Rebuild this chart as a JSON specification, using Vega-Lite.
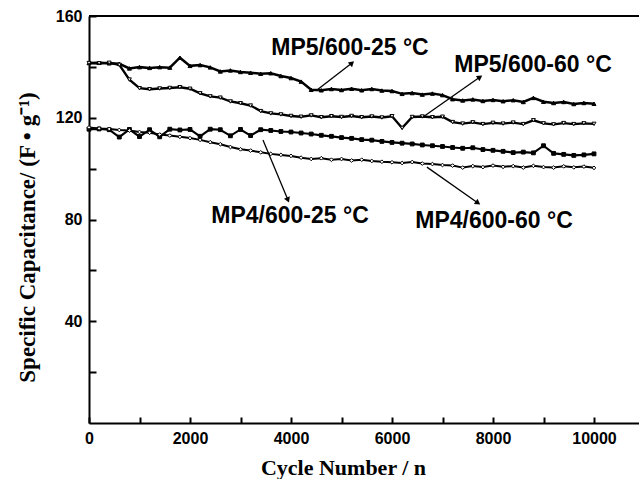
{
  "$schema": "https://vega.github.io/schema/vega-lite/v6.json",
  "autosize": "none",
  "width": 550,
  "height": 407,
  "padding": {"left": 89, "top": 16, "right": 0, "bottom": 56},
  "background": "white",
  "config": {"view": {"stroke": null}},
  "datasets": {
    "cap": [
      {"c": 0, "A": 141.5, "B": 141.5, "C": 115.5, "D": 116.2},
      {"c": 200, "A": 141.6, "B": 141.4, "C": 115.6, "D": 115.8},
      {"c": 400, "A": 141.4, "B": 141.6, "C": 115.3, "D": 115.6},
      {"c": 600, "A": 141.2, "B": 140.8, "C": 112.4, "D": 115.2},
      {"c": 800, "A": 139.4, "B": 135.0, "C": 115.4, "D": 115.0},
      {"c": 1000, "A": 139.9, "B": 131.6, "C": 112.6, "D": 114.4},
      {"c": 1200, "A": 139.6, "B": 131.2, "C": 115.3, "D": 114.1},
      {"c": 1400, "A": 139.9, "B": 131.5, "C": 112.5, "D": 113.4},
      {"c": 1600, "A": 139.7, "B": 131.7, "C": 115.5, "D": 113.0},
      {"c": 1800, "A": 143.6, "B": 132.0, "C": 115.2, "D": 112.5},
      {"c": 2000, "A": 140.4, "B": 131.4, "C": 115.4, "D": 112.0},
      {"c": 2200, "A": 140.7, "B": 129.6, "C": 112.7, "D": 111.3},
      {"c": 2400, "A": 139.8, "B": 128.4, "C": 115.5, "D": 110.4},
      {"c": 2600, "A": 138.2, "B": 127.9, "C": 115.3, "D": 109.6},
      {"c": 2800, "A": 138.6, "B": 126.4, "C": 112.9, "D": 108.5},
      {"c": 3000, "A": 138.0, "B": 125.7, "C": 115.4, "D": 107.6},
      {"c": 3200, "A": 137.7, "B": 124.8, "C": 113.0, "D": 107.1},
      {"c": 3400, "A": 137.3, "B": 122.6, "C": 115.3, "D": 106.4},
      {"c": 3600, "A": 137.5, "B": 121.7, "C": 115.0, "D": 105.8},
      {"c": 3800, "A": 136.4, "B": 121.3, "C": 114.6, "D": 105.4},
      {"c": 4000, "A": 135.6, "B": 120.7, "C": 114.4, "D": 105.0},
      {"c": 4200, "A": 134.2, "B": 120.4, "C": 114.0, "D": 104.3},
      {"c": 4400, "A": 131.0, "B": 120.9, "C": 113.6, "D": 103.8},
      {"c": 4600, "A": 130.8, "B": 120.2, "C": 113.1, "D": 104.1},
      {"c": 4800, "A": 131.3, "B": 120.6, "C": 112.7, "D": 103.5},
      {"c": 5000, "A": 130.9, "B": 120.3, "C": 112.2, "D": 103.8},
      {"c": 5200, "A": 131.4, "B": 120.7, "C": 111.9, "D": 103.2},
      {"c": 5400, "A": 130.8, "B": 120.2, "C": 111.4, "D": 103.5},
      {"c": 5600, "A": 131.3, "B": 120.5, "C": 111.2, "D": 103.0},
      {"c": 5800, "A": 130.7, "B": 120.1, "C": 110.7, "D": 102.7},
      {"c": 6000, "A": 130.5, "B": 120.6, "C": 110.3, "D": 102.5},
      {"c": 6200, "A": 129.4, "B": 116.0, "C": 110.0, "D": 102.2},
      {"c": 6400, "A": 129.7, "B": 120.3, "C": 109.7, "D": 102.6},
      {"c": 6600, "A": 129.1, "B": 120.5, "C": 109.3, "D": 102.0},
      {"c": 6800, "A": 129.5, "B": 120.2, "C": 109.0, "D": 101.8},
      {"c": 7000, "A": 128.9, "B": 120.4, "C": 108.7, "D": 101.4},
      {"c": 7200, "A": 127.3, "B": 118.3, "C": 108.3, "D": 101.2},
      {"c": 7400, "A": 126.8, "B": 117.7, "C": 108.0, "D": 100.4},
      {"c": 7600, "A": 127.2, "B": 118.2, "C": 108.2, "D": 101.0},
      {"c": 7800, "A": 126.6, "B": 117.5, "C": 107.5, "D": 100.6},
      {"c": 8000, "A": 127.0, "B": 118.0, "C": 107.2, "D": 101.2},
      {"c": 8200, "A": 126.5, "B": 117.7, "C": 106.8, "D": 100.7},
      {"c": 8400, "A": 126.9, "B": 118.1, "C": 106.3, "D": 101.0},
      {"c": 8600, "A": 126.2, "B": 117.5, "C": 106.5, "D": 100.4},
      {"c": 8800, "A": 127.8, "B": 119.0, "C": 106.2, "D": 101.1},
      {"c": 9000, "A": 126.3, "B": 117.8, "C": 109.0, "D": 100.6},
      {"c": 9200, "A": 125.8, "B": 117.4, "C": 106.0, "D": 100.4},
      {"c": 9400, "A": 126.2, "B": 117.9, "C": 105.6, "D": 100.9},
      {"c": 9600, "A": 125.4, "B": 117.5, "C": 105.2, "D": 100.5},
      {"c": 9800, "A": 125.8, "B": 117.8, "C": 105.4, "D": 100.8},
      {"c": 10000, "A": 125.5, "B": 117.6, "C": 105.8, "D": 100.3}
    ],
    "arrows": [
      {"name": "A", "x": 4515, "y": 130.9, "x2": 5207, "y2": 141.5},
      {"name": "B", "x": 6614, "y": 120.3, "x2": 7742, "y2": 136.0},
      {"name": "C", "x": 3445, "y": 111.3, "x2": 3940, "y2": 87.7},
      {"name": "D", "x": 6692, "y": 100.6, "x2": 7702, "y2": 86.5}
    ],
    "labels": [
      {"label": "MP5/600-25 °C", "x": 5168, "y": 144.7},
      {"label": "MP5/600-60 °C", "x": 8792, "y": 138.0},
      {"label": "MP4/600-25 °C", "x": 3980, "y": 78.6},
      {"label": "MP4/600-60 °C", "x": 8020, "y": 76.7}
    ],
    "frame": [{"top": 160}]
  },
  "layer": [
    {
      "data": {"name": "cap"},
      "transform": [{"fold": ["A", "B", "C", "D"], "as": ["series", "value"]}],
      "encoding": {
        "x": {
          "field": "c", "type": "quantitative",
          "scale": {"domain": [0, 10891], "nice": false, "zero": false},
          "axis": {
            "values": [0, 1000, 2000, 3000, 4000, 5000, 6000, 7000, 8000, 9000, 10000],
            "format": "d",
            "labelExpr": "datum.value % 2000 === 0 ? datum.label : ''",
            "tickSize": -6,
            "tickColor": "black", "tickWidth": 2,
            "domainColor": "black", "domainWidth": 2,
            "grid": false,
            "labelFont": "Liberation Sans", "labelFontWeight": "bold", "labelFontSize": 16, "labelColor": "black",
            "labelPadding": 13, "labelFlush": false, "labelOverlap": false,
            "title": "Cycle Number / n",
            "titleFont": "Liberation Serif", "titleFontSize": 22, "titleFontWeight": "bold", "titleColor": "black",
            "titleX": 254, "titleY": 51, "titleBaseline": "alphabetic", "titleAlign": "center"
          }
        },
        "y": {
          "field": "value", "type": "quantitative",
          "scale": {"domain": [0, 160], "nice": false},
          "axis": {
            "values": [20, 40, 60, 80, 100, 120, 140, 160],
            "labelExpr": "datum.value % 40 === 0 ? datum.label : ''",
            "tickSize": -7,
            "tickColor": "black", "tickWidth": 2,
            "domainColor": "black", "domainWidth": 2,
            "grid": false,
            "labelFont": "Liberation Sans", "labelFontWeight": "bold", "labelFontSize": 16, "labelColor": "black",
            "labelPadding": 14, "labelFlush": false, "labelOverlap": false,
            "title": "Specific Capacitance/ (F • g⁻¹)",
            "titleFont": "Liberation Serif", "titleFontSize": 23, "titleFontWeight": "bold", "titleColor": "black",
            "titleX": -62, "titleY": 221, "titleBaseline": "middle", "titleAlign": "center"
          }
        }
      },
      "layer": [
        {
          "mark": {"type": "line", "color": "black"},
          "encoding": {
            "detail": {"field": "series", "type": "nominal"},
            "strokeWidth": {"field": "series", "type": "nominal", "scale": {"domain": ["A", "B", "C", "D"], "range": [2.5, 2, 4, 1.5]}, "legend": null}
          }
        },
        {
          "mark": {"type": "point", "stroke": "black", "strokeWidth": 1, "opacity": 1},
          "encoding": {
            "shape": {"field": "series", "type": "nominal", "scale": {"domain": ["A", "B", "C", "D"], "range": ["triangle-up", "triangle-down", "square", "diamond"]}, "legend": null},
            "fill": {"field": "series", "type": "nominal", "scale": {"domain": ["A", "B", "C", "D"], "range": ["black", "white", "black", "white"]}, "legend": null},
            "size": {"field": "series", "type": "nominal", "scale": {"domain": ["A", "B", "C", "D"], "range": [16, 14, 26, 14]}, "legend": null}
          }
        }
      ]
    },
    {
      "data": {"name": "frame"},
      "mark": {"type": "rule", "color": "black", "strokeWidth": 2},
      "encoding": {
        "y": {"field": "top", "type": "quantitative"}
      }
    },
    {
      "data": {"name": "arrows"},
      "mark": {"type": "rule", "color": "black", "strokeWidth": 1.3},
      "encoding": {
        "x": {"field": "x", "type": "quantitative"},
        "y": {"field": "y", "type": "quantitative"},
        "x2": {"field": "x2"},
        "y2": {"field": "y2"}
      }
    },
    {
      "data": {"name": "arrows"},
      "transform": [{"filter": "datum.name === 'A'"}],
      "mark": {"type": "point", "shape": "triangle-up", "filled": true, "color": "black", "size": 40, "angle": 48, "opacity": 1},
      "encoding": {
        "x": {"field": "x2", "type": "quantitative"},
        "y": {"field": "y2", "type": "quantitative"}
      }
    },
    {
      "data": {"name": "arrows"},
      "transform": [{"filter": "datum.name === 'B'"}],
      "mark": {"type": "point", "shape": "triangle-up", "filled": true, "color": "black", "size": 40, "angle": 56, "opacity": 1},
      "encoding": {
        "x": {"field": "x2", "type": "quantitative"},
        "y": {"field": "y2", "type": "quantitative"}
      }
    },
    {
      "data": {"name": "arrows"},
      "transform": [{"filter": "datum.name === 'C'"}],
      "mark": {"type": "point", "shape": "triangle-up", "filled": true, "color": "black", "size": 40, "angle": 157, "opacity": 1},
      "encoding": {
        "x": {"field": "x2", "type": "quantitative"},
        "y": {"field": "y2", "type": "quantitative"}
      }
    },
    {
      "data": {"name": "arrows"},
      "transform": [{"filter": "datum.name === 'D'"}],
      "mark": {"type": "point", "shape": "triangle-up", "filled": true, "color": "black", "size": 40, "angle": 125, "opacity": 1},
      "encoding": {
        "x": {"field": "x2", "type": "quantitative"},
        "y": {"field": "y2", "type": "quantitative"}
      }
    },
    {
      "data": {"name": "labels"},
      "mark": {"type": "text", "font": "Liberation Sans", "fontWeight": "bold", "fontSize": 23, "color": "black", "align": "center", "baseline": "alphabetic"},
      "encoding": {
        "x": {"field": "x", "type": "quantitative"},
        "y": {"field": "y", "type": "quantitative"},
        "text": {"field": "label"}
      }
    }
  ]
}
